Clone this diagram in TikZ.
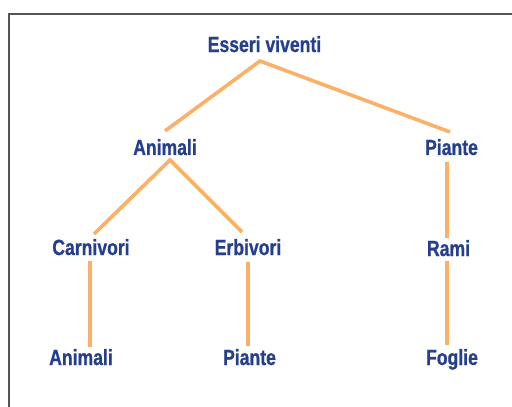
\documentclass[tikz,border=0pt]{standalone}
\usepackage{fontspec}
\newfontfamily\labfont{Liberation Sans}[FakeStretch=0.8,BoldFeatures={FakeBold=0.8}]
\definecolor{labblue}{HTML}{263F8C}
\definecolor{branch}{HTML}{FBB068}
\definecolor{framegray}{HTML}{555555}
\begin{document}
\begin{tikzpicture}[x=0.75pt,y=-0.75pt,
  lab/.style={anchor=base,inner sep=0pt,text=labblue,
    font=\labfont\bfseries\fontsize{16.5pt}{18pt}\selectfont},
  link/.style={draw=branch,line width=2.7pt}]
\useasboundingbox (0,0) rectangle (512,407);
% frame
\draw[framegray,line width=0.9pt] (9,407) -- (9,14) -- (512,14);
% labels
\node[lab] (root) at (264.5,52) {Esseri viventi};
\node[lab] (anim) at (165,155) {Animali};
\node[lab] (pian) at (451.5,155) {Piante};
\node[lab] (carn) at (91,255) {Carnivori};
\node[lab] (erbi) at (248,255) {Erbivori};
\node[lab] (rami) at (448.5,256) {Rami};
\node[lab] (anim2) at (81,365) {Animali};
\node[lab] (pian2) at (249.5,365) {Piante};
\node[lab] (fogl) at (452,365) {Foglie};
% branches
\draw[link] ([shift={(0,-24)}]anim.base) -- ([shift={(-4.5,9)}]root.base) -- ([shift={(-1.5,-23)}]pian.base);
\draw[link] ([shift={(3,-21)}]carn.base) -- ([shift={(5,5)}]anim.base) -- ([shift={(-6,-23)}]erbi.base);
\draw[link] ([shift={(-1,6)}]carn.base) -- ([shift={(9,-18)}]anim2.base);
\draw[link] ([shift={(0,7)}]erbi.base) -- ([shift={(-1.5,-19)}]pian2.base);
\draw[link] ([shift={(-4.5,7)}]pian.base) -- ([shift={(-1.5,-18)}]rami.base);
\draw[link] ([shift={(-1.5,5)}]rami.base) -- ([shift={(-5,-20)}]fogl.base);
\end{tikzpicture}
\end{document}
